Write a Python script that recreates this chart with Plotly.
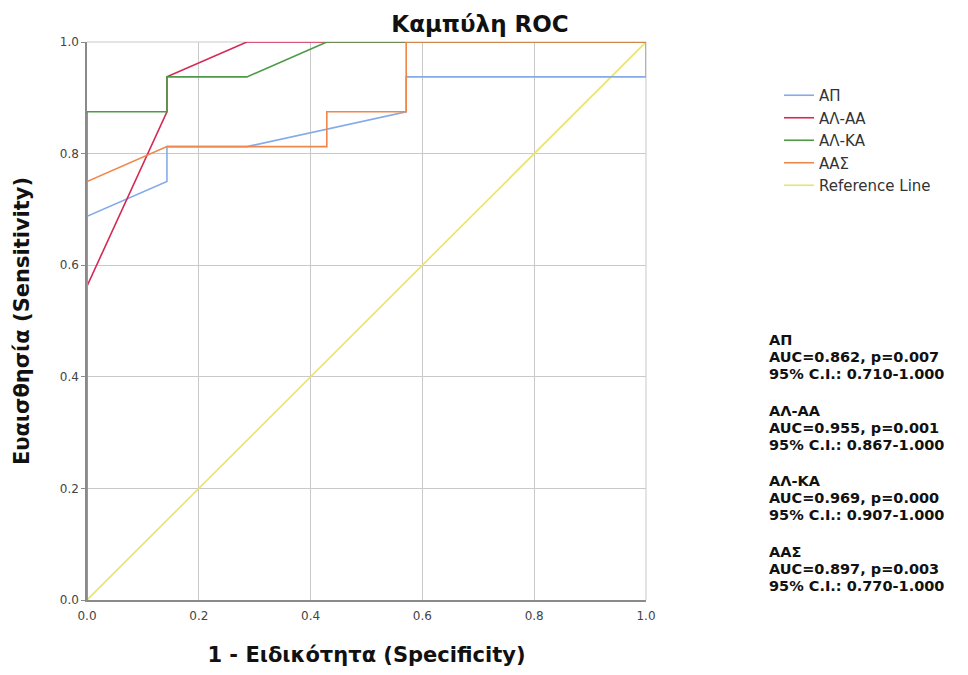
import plotly.graph_objects as go

# 1 - Specificity (x) and Sensitivity (y) for each ROC curve
ap_fpr = [0.0, 0.0, 0.143, 0.143, 0.286, 0.571, 0.571, 1.0, 1.0]
ap_tpr = [0.0, 0.6875, 0.75, 0.8125, 0.8125, 0.875, 0.9375, 0.9375, 1.0]

alaa_fpr = [0.0, 0.0, 0.143, 0.143, 0.286, 1.0]
alaa_tpr = [0.0, 0.5625, 0.875, 0.9375, 1.0, 1.0]

alka_fpr = [0.0, 0.0, 0.143, 0.143, 0.286, 0.429, 1.0]
alka_tpr = [0.0, 0.875, 0.875, 0.9375, 0.9375, 1.0, 1.0]

aas_fpr = [0.0, 0.0, 0.143, 0.429, 0.429, 0.571, 0.571, 1.0]
aas_tpr = [0.0, 0.75, 0.8125, 0.8125, 0.875, 0.875, 1.0, 1.0]

ref_fpr = [0.0, 1.0]
ref_tpr = [0.0, 1.0]

series_names = ["ΑΠ", "ΑΛ-ΑΑ", "ΑΛ-ΚΑ", "ΑΑΣ", "Reference Line"]
series_colors = ["#84ABE8", "#D42A55", "#4E9A46", "#F0874A", "#E8E46E"]

auc_labels = [
    ("ΑΠ", "AUC=0.862, p=0.007", "95% C.I.: 0.710-1.000"),
    ("ΑΛ-ΑΑ", "AUC=0.955, p=0.001", "95% C.I.: 0.867-1.000"),
    ("ΑΛ-ΚΑ", "AUC=0.969, p=0.000", "95% C.I.: 0.907-1.000"),
    ("ΑΑΣ", "AUC=0.897, p=0.003", "95% C.I.: 0.770-1.000"),
]

xs = [ap_fpr, alaa_fpr, alka_fpr, aas_fpr, ref_fpr]
ys = [ap_tpr, alaa_tpr, alka_tpr, aas_tpr, ref_tpr]

FONT = "DejaVu Sans"
OFF = 8  # page body margin
W, H = 968 - 2 * OFF, 675 - 2 * OFF
L, T = 87 - OFF, 42 - OFF
R = W - (646 - OFF)
B = H - (600 - OFF)
PW, PH = W - L - R, H - T - B


def px_x(page_x):
    return (page_x - 87) / PW


def px_y(page_y):
    return (600 - page_y) / PH


fig = go.Figure()
order = [4, 0, 1, 2, 3]
for i in order:
    fig.add_trace(go.Scatter(
        x=xs[i], y=ys[i], mode="lines", name=series_names[i],
        line=dict(color=series_colors[i], width=1.6),
        legendrank=i + 1,
    ))

fig.update_layout(
    width=W, height=H,
    paper_bgcolor="white", plot_bgcolor="white",
    margin=dict(l=L, r=R, t=T, b=B, autoexpand=False),
    title=dict(text="<b>Καμπύλη ROC</b>", x=(480 - OFF) / W, xanchor="center",
               xref="container", yref="container",
               y=1 - (24 - OFF) / H, yanchor="middle", automargin=False,
               font=dict(family=FONT, size=23, color="#111111")),
    font=dict(family=FONT, color="#222222"),
    legend=dict(x=px_x(779), y=px_y(79), xanchor="left", yanchor="top",
                font=dict(family=FONT, size=15, color="#333333"),
                tracegroupgap=0, itemwidth=30,
                bgcolor="rgba(0,0,0,0)"),
    showlegend=True,
)

fig.update_xaxes(
    range=[0, 1], tickvals=[0, 0.2, 0.4, 0.6, 0.8, 1.0],
    ticktext=["0.0", "0.2", "0.4", "0.6", "0.8", "1.0"],
    showgrid=True, gridcolor="#C9C9C9", gridwidth=1,
    showline=True, linecolor="#8A8A8A", linewidth=1.5, mirror=False,
    zeroline=False, ticks="", automargin=False, ticklabelstandoff=4,
    tickfont=dict(family=FONT, size=12, color="#444444"),
    title=dict(text="<b>1 - Ειδικότητα (Specificity)</b>",
               font=dict(family=FONT, size=21, color="#111111"), standoff=31),
)
fig.update_yaxes(
    range=[0, 1], tickvals=[0, 0.2, 0.4, 0.6, 0.8, 1.0],
    ticktext=["0.0", "0.2", "0.4", "0.6", "0.8", "1.0"],
    showgrid=True, gridcolor="#C9C9C9", gridwidth=1,
    showline=True, linecolor="#8A8A8A", linewidth=1.5, mirror=False,
    zeroline=False, ticks="outside", ticklen=4, tickcolor="#8A8A8A",
    automargin=False,
    tickfont=dict(family=FONT, size=12, color="#444444"),
    title=dict(text="<b>Ευαισθησία (Sensitivity)</b>",
               font=dict(family=FONT, size=21, color="#111111"), standoff=24),
)

fig.add_shape(type="line", xref="paper", yref="paper", x0=0, x1=1, y0=1, y1=1,
              line=dict(color="#C9C9C9", width=1), layer="below")
fig.add_shape(type="line", xref="paper", yref="paper", x0=1, x1=1, y0=0, y1=1,
              line=dict(color="#C9C9C9", width=1), layer="below")

# AUC annotation block, one annotation per text line
block_tops = [340, 411, 481, 552]
line_gap = 17
for k, lines in enumerate(auc_labels):
    for j, txt in enumerate(lines):
        cy = block_tops[k] + j * line_gap
        fig.add_annotation(
            xref="paper", yref="paper", x=px_x(767), y=px_y(cy),
            xanchor="left", yanchor="middle", align="left", showarrow=False,
            text=f"<b>{txt}</b>",
            font=dict(family=FONT, size=14.5, color="#111111"),
        )

fig.write_html("out.html")
